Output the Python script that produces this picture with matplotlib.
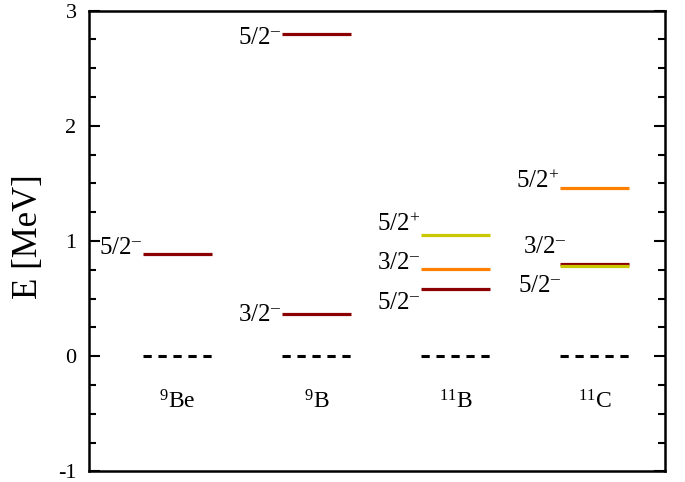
import matplotlib
import matplotlib.pyplot as plt

matplotlib.use('Agg')
plt.rcParams["font.family"] = ["Liberation Serif", "DejaVu Serif"]
plt.rcParams["mathtext.fontset"] = "custom"
plt.rcParams["mathtext.rm"] = "Liberation Serif"
plt.rcParams["mathtext.it"] = "Liberation Serif:italic"
plt.rcParams["mathtext.bf"] = "Liberation Serif:bold"
plt.rcParams["axes.unicode_minus"] = False

# nuclei (x slots 1..4)
nuclei = ["9Be", "9B", "11B", "11C"]
mass_numbers = ["9", "9", "11", "11"]
elements = ["Be", "B", "B", "C"]

# excited levels
level_nucleus = [0, 1, 1, 2, 2, 2, 3, 3, 3]
level_energy = [0.89, 2.80, 0.37, 0.58, 0.755, 1.05, 0.80, 0.78, 1.46]
level_spin = ["5/2", "5/2", "3/2", "5/2", "3/2", "5/2", "3/2", "5/2", "5/2"]
level_parity = ["-", "-", "-", "-", "-", "+", "-", "-", "+"]
level_color = ["#8b0000", "#8b0000", "#8b0000", "#8b0000", "#ff8000",
               "#c8c800", "#8b0000", "#c8c800", "#ff8000"]

# label offsets in pixels (dx right, dy down of baseline relative to line start)
label_offsets = [(-1, 0), (-1, 10), (-1, 7), (-1, 20), (-1, 0),
                 (-1, -4), (6, -11), (1, 26), (-1, 0)]

half_width = 0.25

fig = plt.figure(figsize=(6.85, 4.82), dpi=100)
ax = fig.add_axes([0.130, 0.022, 0.841, 0.956])

# ground states
for i in range(len(nuclei)):
    x = i + 1
    ax.plot([x - half_width, x + half_width], [0, 0], color="black", lw=2.2,
            dashes=(2.7, 2.2), solid_capstyle="butt", dash_capstyle="butt")
    ax.annotate("$^{%s}$%s" % (mass_numbers[i], elements[i]), xy=(x, 0),
                xytext=(0, -52), textcoords="offset pixels",
                ha="center", va="baseline", fontsize=17)

for k in range(len(level_energy)):
    x = level_nucleus[k] + 1
    e = level_energy[k]
    ax.plot([x - half_width, x + half_width], [e, e], color=level_color[k],
            lw=2.3, solid_capstyle="butt")
    sup = r"$^{\mathbf{\text{–}}}$" if level_parity[k] == "-" else "$^{+}$"
    dx, dy = label_offsets[k]
    ax.annotate(level_spin[k] + sup, xy=(x - half_width, e),
                xytext=(dx, -dy), textcoords="offset pixels",
                ha="right", va="baseline", fontsize=18)

ax.set_xlim(0.363, 4.507)
ax.set_ylim(-1, 3)
ax.set_xticks([])
ax.set_yticks([-1, 0, 1, 2, 3])
ax.set_yticks([v / 4 for v in range(-4, 13)], minor=True)
ax.tick_params(axis="y", which="both", direction="in", left=True, right=True,
               labelsize=16, width=1.5, pad=9)
ax.tick_params(axis="y", which="major", length=8)
ax.tick_params(axis="y", which="minor", length=5)
for s in ax.spines.values():
    s.set_linewidth(1.8)

ax.set_ylabel("E [MeV]", fontsize=25)
ax.yaxis.set_label_coords(-0.076, 0.51)

fig.savefig("out.png", dpi=100)
